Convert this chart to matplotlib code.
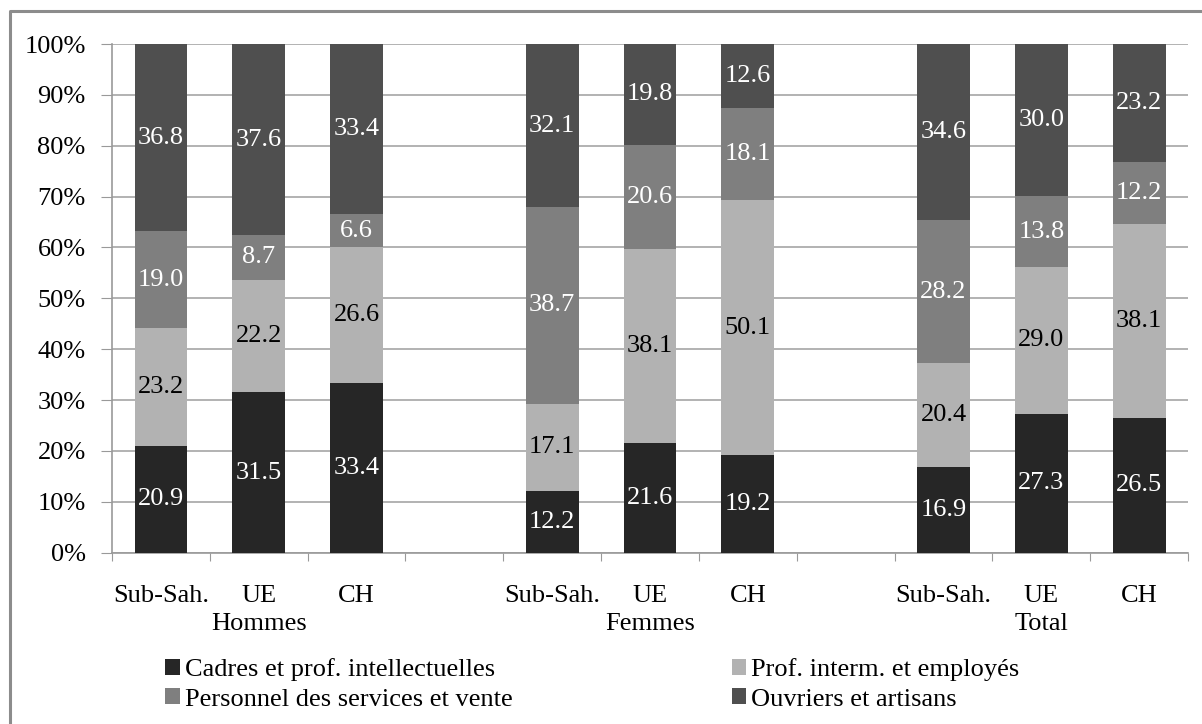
import matplotlib.pyplot as plt
import matplotlib.lines as mlines
import numpy as np

plt.rcParams['font.family'] = ['Liberation Serif', 'DejaVu Serif']

groups = ['Hommes', 'Femmes', 'Total']
origins = ['Sub-Sah.', 'UE', 'CH']

series_names = ['Cadres et prof. intellectuelles', 'Prof. interm. et employés',
                'Personnel des services et vente', 'Ouvriers et artisans']
colors = ['#262626', '#b2b2b2', '#7f7f7f', '#4f4f4f']
label_colors = ['white', 'black', 'white', 'white']

# values by bar: Hommes (Sub-Sah, UE, CH), Femmes (...), Total (...)
cadres = [20.9, 31.5, 33.4, 12.2, 21.6, 19.2, 16.9, 27.3, 26.5]
interm = [23.2, 22.2, 26.6, 17.1, 38.1, 50.1, 20.4, 29.0, 38.1]
services = [19.0, 8.7, 6.6, 38.7, 20.6, 18.1, 28.2, 13.8, 12.2]
ouvriers = [36.8, 37.6, 33.4, 32.1, 19.8, 12.6, 34.6, 30.0, 23.2]

data = np.array([cadres, interm, services, ouvriers])
shares = data / data.sum(axis=0) * 100

FS = 19

# one empty slot between groups
x = np.array([g * 4 + i for g in range(3) for i in range(3)])

fig = plt.figure(figsize=(12.02, 7.24), dpi=100)
ax = fig.add_axes([0.0932, 0.2366, 0.8952, 0.7026])

bottom = np.zeros(len(x))
handles = []
for k in range(4):
    bars = ax.bar(x, shares[k], bottom=bottom, width=0.54, color=colors[k],
                  label=series_names[k], zorder=3)
    handles.append(bars)
    for xi, b, h, v in zip(x, bottom, shares[k], data[k]):
        ax.text(xi, b + h / 2, f'{v:.1f}', ha='center', va='center',
                color=label_colors[k], fontsize=FS, zorder=4)
    bottom += shares[k]

ax.set_xlim(-0.5, 10.5)
ax.set_ylim(0, 100)
ax.set_yticks(np.arange(0, 101, 10))
ax.set_yticklabels([f'{v}%' for v in range(0, 101, 10)], fontsize=FS)
ax.yaxis.grid(True, color='#a6a6a6', linewidth=1.2, zorder=0)

# boundaries get tick marks, centers get labels
ax.set_xticks(np.arange(-0.5, 11, 1))
ax.set_xticklabels([])
ax.set_xticks(x, minor=True)
tick_labels = []
for g in range(3):
    for i in range(3):
        tick_labels.append(origins[i] + '\n' + groups[g] if i == 1 else origins[i])
ax.set_xticklabels(tick_labels, minor=True, fontsize=FS, linespacing=1.4)
ax.tick_params(axis='x', which='major', length=6, color='#999999', direction='out')
ax.tick_params(axis='x', which='minor', length=0, pad=23)
ax.tick_params(axis='y', length=8, color='#999999', pad=11)

for s in ['top', 'right']:
    ax.spines[s].set_visible(False)
for s in ['left', 'bottom']:
    ax.spines[s].set_color('#999999')
    ax.spines[s].set_linewidth(1.2)

order = [0, 2, 1, 3]
fig.legend([handles[i] for i in order], [series_names[i] for i in order],
           ncol=2, frameon=False, fontsize=FS, loc='upper left',
           bbox_to_anchor=(165 / 1202, 1 - 658 / 724), borderpad=0,
           borderaxespad=0, handlelength=0.55, handleheight=0.55,
           handletextpad=0.2, columnspacing=8.3, labelspacing=0.28)

# chart border: only top and left edges are visible
fig.add_artist(mlines.Line2D([10 / 1202, 10 / 1202, 1], [0, 1 - 11 / 724, 1 - 11 / 724],
                             transform=fig.transFigure, color='#8c8c8c', linewidth=2.2))

fig.savefig('out.png', dpi=100)
